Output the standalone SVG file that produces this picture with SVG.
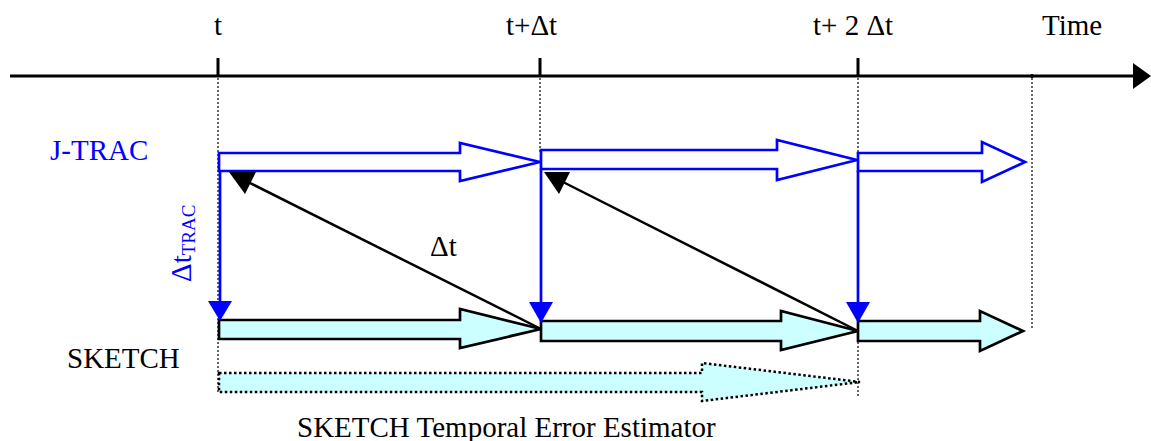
<svg xmlns="http://www.w3.org/2000/svg" width="1151" height="441" viewBox="0 0 1151 441">
  <style>
    text { font-family: "Liberation Serif", "Times New Roman", serif; font-size: 29px; fill: #000; }
    .blue { fill: #0000ff; }
    .guide { stroke: #000; stroke-width: 1.2; stroke-dasharray: 2 2; fill: none; }
    .tick { stroke: #000; stroke-width: 3; }
    .trac { fill: #fff; stroke: #0000ff; stroke-width: 2.7; stroke-linejoin: miter; }
    .sketch { fill: #ccffff; stroke: #000; stroke-width: 2.7; stroke-linejoin: miter; }
    .estimator { fill: #ccffff; stroke: #000; stroke-width: 2.5; stroke-dasharray: 2.5 2.5; }
    .drop { stroke: #0000ff; stroke-width: 2.7; }
    .lag { stroke: #000; stroke-width: 2.5; }
  </style>

  <!-- time axis -->
  <g id="axis">
    <line x1="10" y1="76" x2="1136" y2="76" stroke="#000" stroke-width="3"/>
    <polygon points="1133,63 1151,76 1133,89" fill="#000"/>
    <line class="tick" x1="218" y1="58" x2="218" y2="76"/>
    <line class="tick" x1="540" y1="58" x2="540" y2="76"/>
    <line class="tick" x1="858" y1="58" x2="858" y2="76"/>
    <circle cx="1032" cy="76" r="2" fill="#000"/>
    <text x="218" y="35" text-anchor="middle">t</text>
    <text x="506" y="35">t+Δt</text>
    <text x="813" y="35">t+ 2 Δt</text>
    <text x="1042" y="35">Time</text>
  </g>

  <!-- dotted time guides -->
  <g id="guides">
    <line class="guide" x1="218" y1="78" x2="218" y2="392"/>
    <line class="guide" x1="540" y1="78" x2="540" y2="153"/>
    <line class="guide" x1="858" y1="78" x2="858" y2="398"/>
    <line class="guide" x1="1032" y1="78" x2="1032" y2="328"/>
  </g>

  <!-- row labels -->
  <g id="labels">
    <text class="blue" x="50" y="160">J-TRAC</text>
    <text x="67" y="368">SKETCH</text>
    <text x="297" y="437">SKETCH Temporal Error Estimator</text>
    <text x="430" y="256">Δt</text>
    <text class="blue" transform="translate(191,282) rotate(-90)">Δt<tspan font-size="19" dy="4">TRAC</tspan></text>
  </g>

  <!-- J-TRAC intervals -->
  <g id="jtrac-1"><path class="trac" d="M219,153 H460 V143 L540,162 L460,181 V171 H219 Z"/></g>
  <g id="jtrac-2"><path class="trac" d="M541,150 H777 V140 L857,160 L777,180 V169 H541 Z"/></g>
  <g id="jtrac-3"><path class="trac" d="M858,153 H982 V142 L1025,162 L982,182 V171 H858 Z"/></g>

  <!-- SKETCH intervals -->
  <g id="sketch-1"><path class="sketch" d="M219,320 H460 V309 L541,329 L460,348 V339 H219 Z"/></g>
  <g id="sketch-2"><path class="sketch" d="M541,321 H781 V311 L858,331 L781,350 V341 H541 Z"/></g>
  <g id="sketch-3"><path class="sketch" d="M858,321 H980 V311 L1023,331 L980,351 V341 H858 Z"/></g>

  <!-- temporal error estimator -->
  <g id="estimator"><path class="estimator" d="M219,373 H702 V363 L860,382 L702,401 V392 H219 Z"/></g>

  <!-- connectors -->
  <g id="connectors">
    <line class="drop" x1="220" y1="171" x2="220" y2="303"/>
    <polygon points="208,301 232,301 220,321" fill="#0000ff"/>
    <line class="drop" x1="541" y1="169" x2="541" y2="304"/>
    <polygon points="529,302 553,302 541,323" fill="#0000ff"/>
    <line class="drop" x1="858" y1="171" x2="858" y2="304"/>
    <polygon points="846,302 870,302 858,323" fill="#0000ff"/>

    <line class="lag" x1="541" y1="329" x2="248" y2="182"/>
    <polygon points="229,172 256,172 245,194" fill="#000"/>
    <line class="lag" x1="858" y1="331" x2="563" y2="182"/>
    <polygon points="544,172 570,172 559,194" fill="#000"/>
  </g>
</svg>
